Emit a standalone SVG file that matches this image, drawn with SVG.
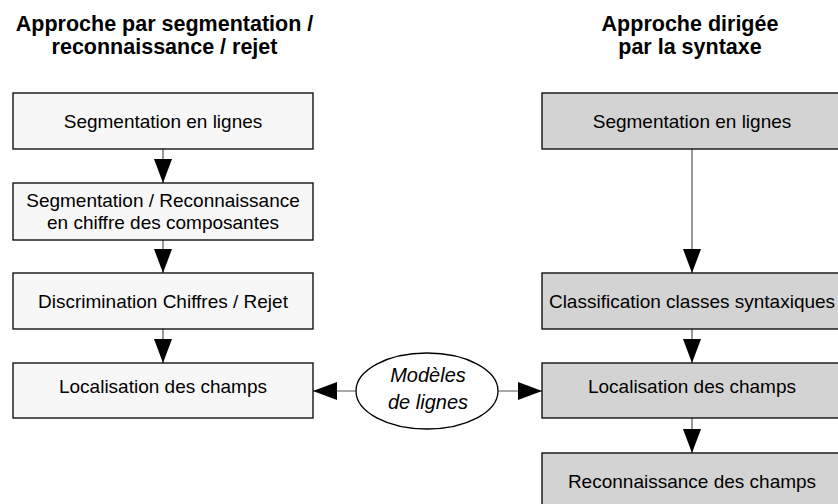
<svg xmlns="http://www.w3.org/2000/svg" width="838" height="504" viewBox="0 0 838 504">
<defs>
<style>
.t{font-family:"Liberation Sans",Arial,sans-serif;font-size:19px;fill:#000;text-anchor:middle}
.h{font-family:"Liberation Sans",Arial,sans-serif;font-size:21.5px;font-weight:bold;fill:#000;text-anchor:middle}
.i{font-family:"Liberation Sans",Arial,sans-serif;font-size:20px;font-style:italic;fill:#000;text-anchor:middle}
.l{fill:#f7f7f7;stroke:#000;stroke-width:1.3}
.r{fill:#d3d3d3;stroke:#000;stroke-width:1.3}
.c{stroke:#555;stroke-width:1.2;fill:none;marker-end:url(#ah)}
</style>
<marker id="ah" markerUnits="userSpaceOnUse" markerWidth="24" markerHeight="18" refX="24" refY="9" orient="auto">
<path d="M0,0 L24,9 L0,18 z" fill="#000"/>
</marker>
</defs>
<rect width="838" height="504" fill="#fff"/>
<g id="titles">
<text class="h" x="164.5" y="31">Approche par segmentation /</text>
<text class="h" x="164.5" y="54">reconnaissance / rejet</text>
<text class="h" x="690" y="31">Approche dirigée</text>
<text class="h" x="690" y="54">par la syntaxe</text>
</g>
<g id="connectors">
<line class="c" x1="163" y1="149" x2="163" y2="183"/>
<line class="c" x1="163" y1="240" x2="163" y2="273"/>
<line class="c" x1="163" y1="329" x2="163" y2="363"/>
<line class="c" x1="692" y1="149" x2="692" y2="273"/>
<line class="c" x1="692" y1="329" x2="692" y2="363"/>
<line class="c" x1="692" y1="418" x2="692" y2="453"/>
<line class="c" x1="356" y1="391" x2="313" y2="391"/>
<line class="c" x1="498" y1="391" x2="542" y2="391"/>
</g>
<g id="l1"><rect class="l" x="13" y="93" width="300" height="56"/><text class="t" x="163" y="128">Segmentation en lignes</text></g>
<g id="l2"><rect class="l" x="13" y="183" width="300" height="57"/><text class="t" x="163" y="207">Segmentation / Reconnaissance</text><text class="t" x="163" y="229">en chiffre des composantes</text></g>
<g id="l3"><rect class="l" x="13" y="273" width="300" height="56"/><text class="t" x="163" y="308">Discrimination Chiffres / Rejet</text></g>
<g id="l4"><rect class="l" x="13" y="363" width="300" height="55"/><text class="t" x="163" y="393">Localisation des champs</text></g>
<g id="r1"><rect class="r" x="542" y="93" width="300" height="56"/><text class="t" x="692" y="128">Segmentation en lignes</text></g>
<g id="r2"><rect class="r" x="542" y="273" width="300" height="56"/><text class="t" x="692" y="308">Classification classes syntaxiques</text></g>
<g id="r3"><rect class="r" x="542" y="363" width="300" height="55"/><text class="t" x="692" y="393">Localisation des champs</text></g>
<g id="r4"><rect class="r" x="542" y="453" width="300" height="56"/><text class="t" x="692" y="488">Reconnaissance des champs</text></g>
<g id="model"><ellipse cx="427" cy="391" rx="71" ry="38" fill="#fff" stroke="#000" stroke-width="1.3"/><text class="i" x="428" y="382">Modèles</text><text class="i" x="428" y="409">de lignes</text></g>
</svg>
